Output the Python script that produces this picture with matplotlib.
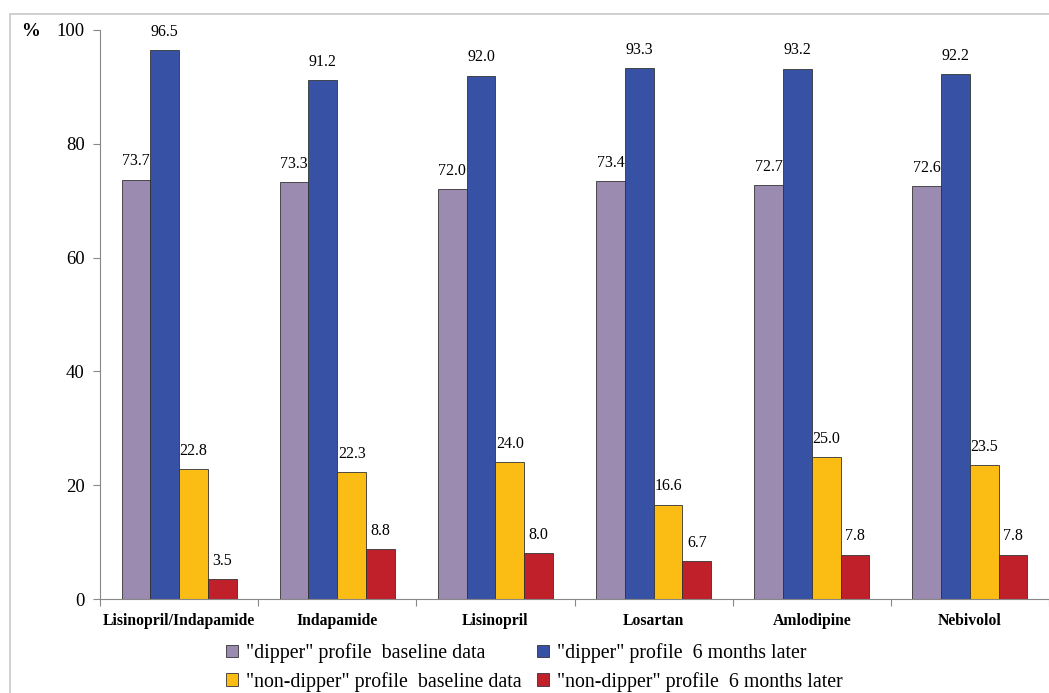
import numpy as np
import matplotlib.pyplot as plt
from matplotlib.patches import Rectangle

plt.rcParams['font.family'] = ['Liberation Serif', 'DejaVu Serif']

# Data
drugs = ['Lisinopril/Indapamide', 'Indapamide', 'Lisinopril', 'Losartan', 'Amlodipine', 'Nebivolol']
dipper_base = [73.7, 73.3, 72.0, 73.4, 72.7, 72.6]
dipper_6m = [96.5, 91.2, 92.0, 93.3, 93.2, 92.2]
nondipper_base = [22.8, 22.3, 24.0, 16.6, 25.0, 23.5]
nondipper_6m = [3.5, 8.8, 8.0, 6.7, 7.8, 7.8]

series = [dipper_base, dipper_6m, nondipper_base, nondipper_6m]
labels = ['"dipper" profile  baseline data', '"dipper" profile  6 months later',
          '"non-dipper" profile  baseline data', '"non-dipper" profile  6 months later']
colors = ['#9b8bb0', '#3752a4', '#fbbd14', '#c0202a']

fig = plt.figure(figsize=(10.49, 6.93), dpi=100)
ax = fig.add_axes([100 / 1049, 1 - 599 / 693, 1 - 100 / 1049, (599 - 30) / 693])

# outer frame (cut off on right/bottom like the original)
fig.patches.append(Rectangle((10 / 1049, -0.01), 1.05, 1 - 14 / 693 + 0.01,
                             transform=fig.transFigure, fill=False,
                             edgecolor='#c8c8c8', lw=1.2))

x = np.arange(len(drugs))
w = 0.182
handles = []
for i, (vals, lab, c) in enumerate(zip(series, labels, colors)):
    pos = x + (i - 1.5) * w
    h = ax.bar(pos, vals, w, color=c, edgecolor='#333333', linewidth=0.6, label=lab)
    handles.append(h)
    for p, v in zip(pos, vals):
        ax.text(p, v + 1.8, f'{v:.1f}', ha='center', va='bottom', fontsize=11.5)

ax.set_xlim(-0.5, len(drugs) - 0.5)
ax.set_ylim(0, 100)
ax.set_yticks(range(0, 101, 20))
ax.tick_params(axis='y', labelsize=13.5, length=5, color='#888888', pad=6)
ax.set_xticks(np.arange(len(drugs) + 1) - 0.5)
ax.set_xticklabels([])
ax.set_xticks(x, minor=True)
ax.set_xticklabels(drugs, minor=True, fontweight='bold', fontsize=11.3)
ax.tick_params(axis='x', which='major', length=5, color='#888888', direction='out')
ax.tick_params(axis='x', which='minor', length=0, pad=10)
for s in ['top', 'right']:
    ax.spines[s].set_visible(False)
for s in ['left', 'bottom']:
    ax.spines[s].set_color('#888888')

fig.text(30 / 1049, 1 - 32 / 693, '%', fontsize=13.5, fontweight='bold', ha='center', va='center')

# legend filled row by row like the original
order = [0, 2, 1, 3]
ax.legend([handles[k] for k in order], [labels[k] for k in order],
          loc='upper left', bbox_to_anchor=(226 / 1049, 50 / 693), bbox_transform=fig.transFigure,
          ncol=2, frameon=False, fontsize=14.3, handlelength=0.6, handleheight=0.6,
          handletextpad=0.4, columnspacing=0.8, labelspacing=0.45, borderaxespad=0, borderpad=0)

fig.savefig('out.png', dpi=100)
